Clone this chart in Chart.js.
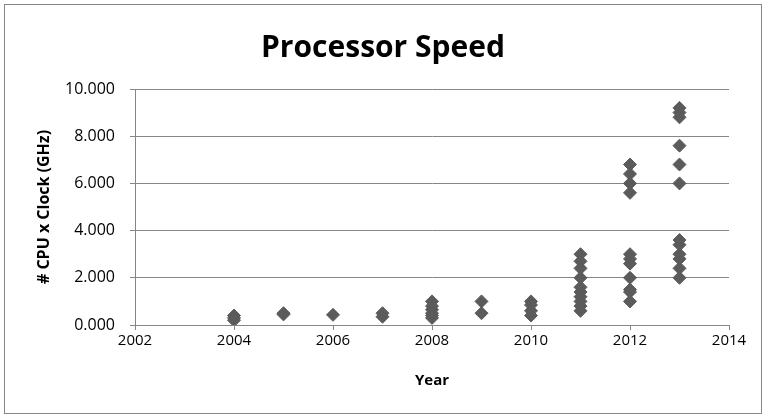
<!DOCTYPE html>
<html>
<head>
<meta charset="utf-8">
<script src="https://cdn.jsdelivr.net/npm/chart.js@4.4.1/dist/chart.umd.min.js"></script>
<style>
  html, body { margin: 0; background: #fff; }
</style>
</head>
<body>
<canvas id="processor-speed" width="766" height="418"></canvas>
<script>
// one entry per processor: release year and (# CPU x clock) in GHz
const years = [
    2004, 2004, 2004,
    2005, 2005,
    2006,
    2007, 2007,
    2008, 2008, 2008, 2008, 2008, 2008,
    2009, 2009,
    2010, 2010, 2010, 2010,
    2011, 2011, 2011, 2011, 2011, 2011, 2011, 2011, 2011, 2011,
    2012, 2012, 2012, 2012, 2012, 2012, 2012, 2012, 2012, 2012, 2012,
    2013, 2013, 2013, 2013, 2013, 2013, 2013, 2013, 2013, 2013, 2013, 2013];
const cpuClock = [
    0.4, 0.3, 0.2,
    0.5, 0.45,
    0.43,
    0.35, 0.5,
    1.0, 0.8, 0.65, 0.5, 0.4, 0.3,
    1.0, 0.5,
    1.0, 0.85, 0.6, 0.4,
    3.0, 2.7, 2.4, 2.0, 1.6, 1.4, 1.2, 1.0, 0.8, 0.6,
    6.8, 6.4, 6.0, 5.6, 3.0, 2.8, 2.6, 2.0, 1.5, 1.4, 1.0,
    9.2, 9.0, 8.8, 7.6, 6.8, 6.0, 3.6, 3.4, 3.0, 2.8, 2.4, 2.0];

const yearTicks = [2002, 2004, 2006, 2008, 2010, 2012, 2014];
const speedTicks = [0, 2, 4, 6, 8, 10];

const axisGray = '#868686';
const fontFamily = "'Open Sans', 'Liberation Sans', sans-serif";

// thin frame around the whole chart
const chartFrame = {
    id: 'chartFrame',
    beforeDraw(chart) {
        const ctx = chart.ctx;
        ctx.save();
        ctx.strokeStyle = axisGray;
        ctx.lineWidth = 1;
        ctx.strokeRect(4.5, 4.5, 757, 409);
        ctx.restore();
    }
};

const points = years.map((y, i) => ({ x: y, y: cpuClock[i] }));

const chart = new Chart('processor-speed', {
    type: 'scatter',
    data: {
        datasets: [{
            data: points,
            pointStyle: 'rectRot',
            pointRadius: 6.5,
            pointBorderWidth: 1,
            backgroundColor: '#5b5b5b',
            borderColor: '#5b5b5b'
        }]
    },
    options: {
        responsive: false,
        animation: false,
        layout: { padding: 0 },
        plugins: {
            legend: { display: false },
            tooltip: { enabled: false },
            title: {
                display: true,
                text: 'Processor Speed',
                color: '#000',
                font: { family: fontFamily, size: 30, weight: 'bold' },
                padding: { top: 30, bottom: 23 }
            }
        },
        scales: {
            x: {
                type: 'linear',
                min: yearTicks[0],
                max: yearTicks[yearTicks.length - 1],
                afterBuildTicks: (scale) => { scale.ticks = yearTicks.map(v => ({ value: v })); },
                // fixed axis band height and room on the right of the plot
                afterFit: (scale) => { scale.height = 93; scale.paddingRight = 37; },
                ticks: {
                    callback: (v) => String(v),
                    color: '#000',
                    font: { family: fontFamily, size: 15 },
                    padding: 2,
                    maxRotation: 0
                },
                grid: {
                    drawOnChartArea: false,
                    tickLength: 5,
                    color: axisGray
                },
                border: { color: axisGray },
                title: {
                    display: true,
                    text: 'Year',
                    color: '#000',
                    font: { family: fontFamily, size: 15, weight: 'bold' },
                    padding: { top: 0, bottom: 28 }
                }
            },
            y: {
                min: speedTicks[0],
                max: speedTicks[speedTicks.length - 1],
                afterBuildTicks: (scale) => { scale.ticks = speedTicks.map(v => ({ value: v })); },
                afterFit: (scale) => { scale.width = 135; },
                ticks: {
                    callback: (v) => v.toFixed(3),
                    color: '#000',
                    font: { family: fontFamily, size: 16 },
                    padding: 15
                },
                grid: {
                    tickLength: 5,
                    color: axisGray
                },
                border: { color: axisGray },
                title: {
                    display: true,
                    text: '# CPU x Clock (GHz)',
                    color: '#000',
                    font: { family: fontFamily, size: 16, weight: 'bold' },
                    padding: { top: 35, bottom: 0 }
                }
            }
        }
    },
    plugins: [chartFrame]
});
</script>
</body>
</html>
